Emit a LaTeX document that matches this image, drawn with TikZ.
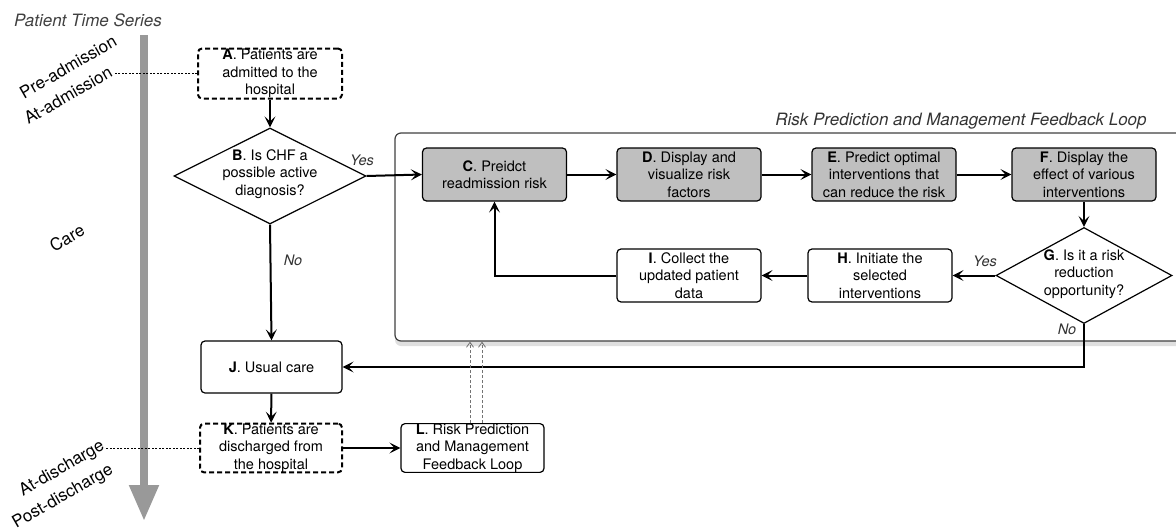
\documentclass[tikz,border=0pt]{standalone}
\usepackage{fontspec}
\setmainfont{TeX Gyre Heros}
\usetikzlibrary{arrows.meta,shapes.geometric,shadows}

\newcommand\boxfont{\fontsize{14.5}{17.5}\selectfont}
\newcommand\tagfont{\fontsize{17}{19}\selectfont}

\begin{document}
\begin{tikzpicture}[x=1pt, y=-1pt,
  stepbox/.style={draw, line width=1.2pt, rounded corners=4pt, align=center,
    inner sep=0pt, font=\boxfont, minimum width=144pt, minimum height=53pt},
  riskbox/.style={stepbox, fill=black!25},
  eventbox/.style={stepbox, line width=2pt, dash pattern=on 5pt off 3pt, minimum height=50pt},
  decision/.style={draw, shape=diamond, line width=1.2pt, inner sep=0pt},
  flow/.style={line width=2pt, -{Stealth[length=11pt, width=11pt, inset=5pt]}},
  feed/.style={black!55, line width=0.8pt, dash pattern=on 3pt off 2pt,
    -{Straight Barb[length=5pt, width=7pt]}},
  leader/.style={line width=0.7pt, dash pattern=on 2pt off 1.5pt},
  period/.style={font=\tagfont, rotate=30},
  answer/.style={font=\boxfont\itshape, text=black!80}]

  \useasboundingbox (0,0) rectangle (1176,530);
  \clip (0,0) rectangle (1176,530);

  % Time axis
  \coordinate (tstart) at (144,35);
  \coordinate (tend)   at (144,521);
  \draw[black!40, line width=8pt, -{Triangle[length=36pt, width=28pt]}] (tstart) -- (tend);
  \node[font=\tagfont\itshape, text=black!75] (series) at (88,20) {Patient Time Series};

  \node[period] (preadm) at (68,67)  {Pre-admission};
  \node[period] (atadm)  at (68,95)  {At-admission};
  \node[period] (care)   at (67,238) {Care};
  \node[period] (atdis)  at (62,469) {At-discharge};
  \node[period] (postdis) at (63,497) {Post-discharge};

  % Feedback loop frame
  \node[draw=black!75, line width=1.2pt, rounded corners=6pt, fill=white,
        minimum width=815pt, minimum height=208pt,
        drop shadow={shadow xshift=0pt, shadow yshift=-5pt, opacity=0.25}] (loop) at (802.5,237) {};
  \node[font=\tagfont\itshape, text=black!80] (looptitle) at (961,121)
    {Risk Prediction and Management Feedback Loop};

  % Main flow
  \node[eventbox] (A) at (270,73.5) {\textbf{A}. Patients are\\admitted to the\\hospital};
  \node[decision, minimum width=192pt, minimum height=96pt] (B) at (270,176) {};
  \node[font=\boxfont, align=center] (Btxt) at (270,174) {\textbf{B}. Is CHF a\\possible active\\diagnosis?};

  \node[riskbox] (C) at (494.5,174.5) {\textbf{C}. Preidct\\readmission risk};
  \node[riskbox] (D) at (689,174.5)   {\textbf{D}. Display and\\visualize risk\\factors};
  \node[riskbox] (E) at (884,174.5)   {\textbf{E}. Predict optimal\\interventions that\\can reduce the risk};
  \node[riskbox] (F) at (1084,174.5)  {\textbf{F}. Display the\\effect of various\\interventions};

  \node[decision, minimum width=176pt, minimum height=96pt] (G) at (1084,275.5) {};
  \node[font=\boxfont, align=center] (Gtxt) at (1084,274) {\textbf{G}. Is it a risk\\reduction\\opportunity?};
  \node[stepbox] (H) at (880,275.5) {\textbf{H}. Initiate the\\selected\\interventions};
  \node[stepbox] (I) at (689,275.5) {\textbf{I}. Collect the\\updated patient\\data};

  \node[stepbox, minimum width=141pt, minimum height=52pt] (J) at (271.5,367) {\textbf{J}. Usual care};
  \node[eventbox, minimum width=142pt, minimum height=48pt] (K) at (271,448) {\textbf{K}. Patients are\\discharged from\\the hospital};
  \node[stepbox, minimum width=143pt, minimum height=48pt] (L) at (472.5,448) {\textbf{L}. Risk Prediction\\and Management\\Feedback Loop};

  % Connectors
  \draw[flow] (A) -- (B);
  \draw[flow] (B.east) -- (C.west);
  \draw[flow] (C) -- (D);
  \draw[flow] (D) -- (E);
  \draw[flow] (E) -- (F);
  \draw[flow] (F) -- (G);
  \draw[flow] (G.west) -- (H.east);
  \draw[flow] (H) -- (I);
  \draw[flow] (I.west) -| (C.south);
  \draw[flow] (B.south) -- (J.north);
  \draw[flow] (G.south) |- (J.east);
  \draw[flow] (J) -- (K);
  \draw[flow] (K) -- (L);
  \draw[feed] ([xshift=-2.5pt]L.north) -- ([xshift=-2.5pt]L.north |- loop.south);
  \draw[feed] ([xshift=9.5pt]L.north) -- ([xshift=9.5pt]L.north |- loop.south);

  \node[answer] (yesB) at (362,160)  {Yes};
  \node[answer] (noB)  at (293,260)  {No};
  \node[answer] (yesG) at (985,261)  {Yes};
  \node[answer] (noG)  at (1067,329) {No};

  % Time markers
  \draw[leader] (A.west) -- (A.west -| atadm.east);
  \draw[leader] (K.west) -- (K.west -| atdis.east);
\end{tikzpicture}
\end{document}
